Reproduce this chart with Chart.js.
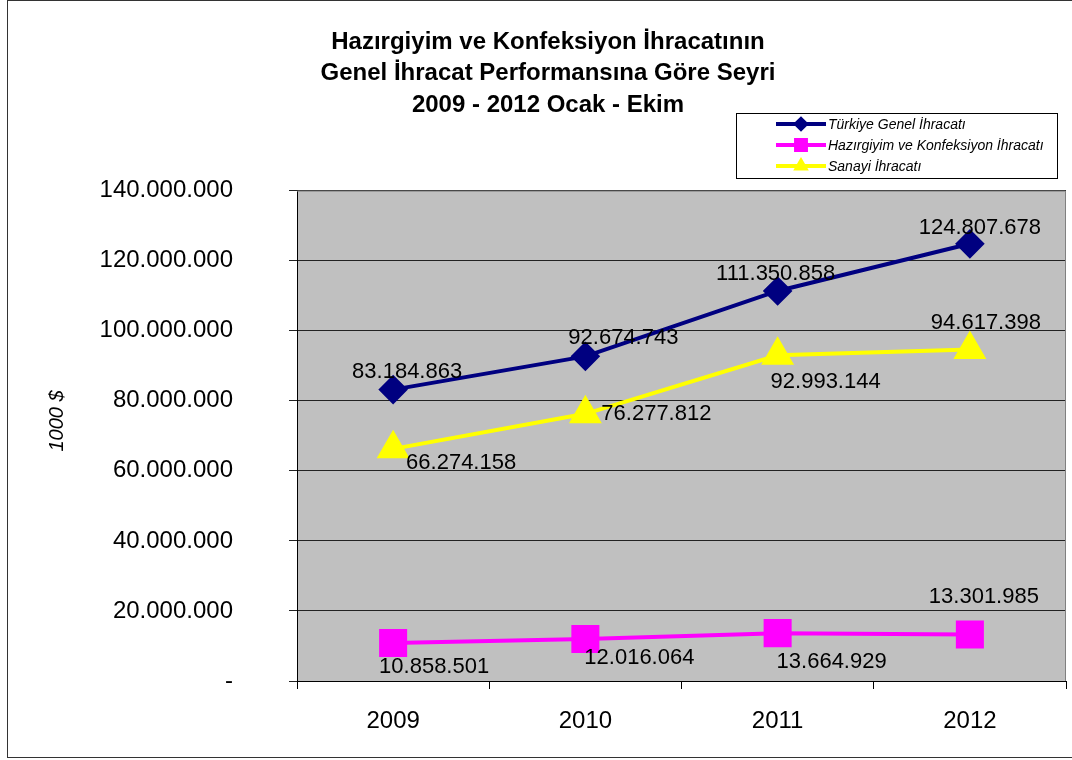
<!DOCTYPE html>
<html>
<head>
<meta charset="utf-8">
<script src="https://cdn.jsdelivr.net/npm/chart.js@4/dist/chart.umd.min.js"></script>
<style>
  html, body { margin: 0; padding: 0; background: #fff; }
</style>
</head>
<body>
<canvas id="chart1" width="1072" height="760"></canvas>
<script>
// Data
const years = ['2009', '2010', '2011', '2012'];
const genelIhracat = [83184863, 92674743, 111350858, 124807678];
const hazirgiyimIhracat = [10858501, 12016064, 13664929, 13301985];
const sanayiIhracat = [66274158, 76277812, 92993144, 94617398];
const seriesNames = ['Türkiye Genel İhracatı', 'Hazırgiyim ve Konfeksiyon İhracatı', 'Sanayi İhracatı'];
const titleLines = ['Hazırgiyim ve Konfeksiyon İhracatının', 'Genel İhracat Performansına Göre Seyri', '2009 - 2012 Ocak - Ekim'];
const yAxisTitle = '1000 $';
const yMin = 0, yMax = 140000000, yStep = 20000000;

const FONT = "'Liberation Sans', Arial, sans-serif";

function dotted(n) {
    return String(n).replace(/\B(?=(\d{3})+(?!\d))/g, '.');
}

// outer frame, grey plot background, y title
const framePlugin = {
    id: 'frame',
    beforeDraw(chart) {
        const ctx = chart.ctx;
        ctx.save();
        ctx.fillStyle = '#fff';
        ctx.fillRect(0, 0, chart.width, chart.height);
        ctx.strokeStyle = '#333';
        ctx.lineWidth = 1;
        ctx.strokeRect(7.5, 0.5, 1200, 757);
        const a = chart.chartArea;
        ctx.fillStyle = '#c0c0c0';
        ctx.fillRect(a.left, a.top, a.right - a.left, a.bottom - a.top);
        // axis title, sits a bit above the middle of the axis in the original
        ctx.translate(57, 421);
        ctx.rotate(-Math.PI / 2);
        ctx.fillStyle = '#000';
        ctx.font = 'italic 20px ' + FONT;
        ctx.textAlign = 'center';
        ctx.textBaseline = 'middle';
        ctx.fillText(yAxisTitle, 0, 0);
        ctx.restore();
    },
    afterDatasetsDraw(chart) {
        // top/right plot borders are grey in the original
        const ctx = chart.ctx, a = chart.chartArea;
        ctx.save();
        ctx.strokeStyle = '#808080';
        ctx.lineWidth = 1;
        ctx.beginPath();
        ctx.moveTo(a.left, a.top + 0.5);
        ctx.lineTo(a.right - 0.5, a.top + 0.5);
        ctx.lineTo(a.right - 0.5, a.bottom);
        ctx.stroke();
        ctx.restore();
    }
};

// value labels, nudged like the hand-placed ones in the original
const valueLabels = {
    id: 'valueLabels',
    afterDatasetsDraw(chart, args, opts) {
        const ctx = chart.ctx;
        ctx.save();
        ctx.font = '22px ' + FONT;
        ctx.fillStyle = '#000';
        ctx.textAlign = 'center';
        ctx.textBaseline = 'middle';
        chart.data.datasets.forEach((ds, di) => {
            const meta = chart.getDatasetMeta(di);
            meta.data.forEach((pt, i) => {
                const sh = opts.shift[di][i];
                ctx.fillText(dotted(ds.data[i]), pt.x + sh[0], pt.y + sh[1]);
            });
        });
        ctx.restore();
    }
};

// legend box floating over the top right corner
const boxLegend = {
    id: 'boxLegend',
    afterDraw(chart) {
        const ctx = chart.ctx;
        const x0 = 736, y0 = 113, w = 321, h = 65;
        ctx.save();
        ctx.fillStyle = '#fff';
        ctx.fillRect(x0, y0, w, h);
        ctx.strokeStyle = '#000';
        ctx.lineWidth = 1;
        ctx.strokeRect(x0 + 0.5, y0 + 0.5, w, h);
        chart.data.datasets.forEach((ds, i) => {
            const y = y0 + 11 + i * 21;
            ctx.strokeStyle = ds.borderColor;
            ctx.lineWidth = 4;
            ctx.beginPath();
            ctx.moveTo(776, y);
            ctx.lineTo(826, y);
            ctx.stroke();
            Chart.helpers.drawPoint(ctx, {
                pointStyle: ds.pointStyle, radius: ds.pointStyle === 'rect' ? 7 : 5,
                rotation: 0, borderWidth: 1
            }, 801, y);
            ctx.fillStyle = ds.borderColor;
            ctx.fill();
            ctx.fillStyle = '#000';
            ctx.font = 'italic 14px ' + FONT;
            ctx.textAlign = 'left';
            ctx.textBaseline = 'middle';
            ctx.fillText(ds.label, 828, y + 1);
        });
        ctx.restore();
    }
};

const ctx = document.getElementById('chart1').getContext('2d');
const chart = new Chart(ctx, {
    type: 'line',
    data: {
        labels: years,
        datasets: [{
            label: seriesNames[0],
            data: genelIhracat,
            borderColor: '#000080',
            backgroundColor: '#000080',
            borderWidth: 4,
            pointStyle: 'rectRot',
            pointRadius: 12,
            pointHoverRadius: 12,
            tension: 0
        }, {
            label: seriesNames[1],
            data: hazirgiyimIhracat,
            borderColor: '#ff00ff',
            backgroundColor: '#ff00ff',
            borderWidth: 4,
            pointStyle: 'rect',
            pointRadius: 17,
            pointHoverRadius: 17,
            tension: 0
        }, {
            label: seriesNames[2],
            data: sanayiIhracat,
            borderColor: '#ffff00',
            backgroundColor: '#ffff00',
            borderWidth: 4,
            pointStyle: 'triangle',
            pointRadius: 15,
            pointHoverRadius: 15,
            tension: 0
        }]
    },
    options: {
        responsive: false,
        animation: false,
        events: [],
        layout: { autoPadding: false, padding: { left: 30, right: 6, top: 0, bottom: 0 } },
        elements: { point: { borderWidth: 0 } },
        plugins: {
            legend: { display: false },
            tooltip: { enabled: false },
            title: {
                display: true,
                text: titleLines,
                color: '#000',
                font: { family: FONT, size: 24, weight: 'bold', lineHeight: 1.3 },
                padding: { top: 27, bottom: 70 }
            },
            valueLabels: {
                shift: [
                    [[14, -18], [38, -18], [-2, -17], [10, -16]],
                    [[41, 24], [54, 19], [54, 29], [14, -37]],
                    [[68, 14], [71, 0], [48, 27], [16, -27]]
                ]
            }
        },
        scales: {
            x: {
                offset: true,
                afterFit(scale) {
                    scale.height = 79;
                    scale.paddingLeft = 0;
                    scale.paddingRight = 0;
                },
                grid: {
                    offset: true,
                    drawOnChartArea: false,
                    tickLength: 8,
                    color: '#000'
                },
                border: { color: '#000', width: 1 },
                ticks: { color: '#000', font: { family: FONT, size: 24 }, padding: 18 }
            },
            y: {
                min: yMin,
                max: yMax,
                afterFit(scale) { scale.width = 267; },
                grid: { color: '#222', tickLength: 8 },
                border: { color: '#000', width: 1 },
                ticks: {
                    stepSize: yStep,
                    color: '#000',
                    font: { family: FONT, size: 24 },
                    padding: 56,
                    callback: v => v === 0 ? '-' : dotted(v)
                }
            }
        }
    },
    plugins: [framePlugin, valueLabels, boxLegend]
});
</script>
</body>
</html>
